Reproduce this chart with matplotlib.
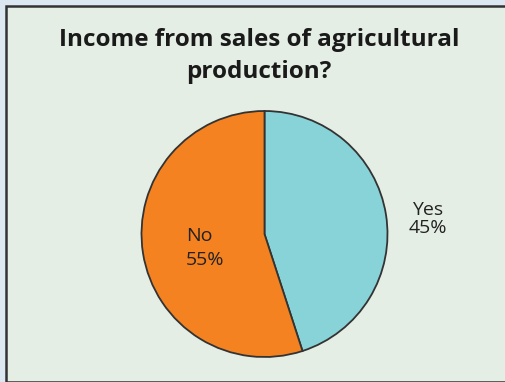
import matplotlib
matplotlib.use("Agg")
import matplotlib.pyplot as plt
from matplotlib.patches import Rectangle

categories = ["Yes", "No"]
shares = [45, 55]
colors = ["#88d3d8", "#f58220"]
title = "Income from sales of agricultural\nproduction?"

W, H = 506, 382
fig = plt.figure(figsize=(W / 100, H / 100), dpi=100)
fig.patch.set_facecolor("#dbe8f1")

# framed panel
fig.patches.append(Rectangle((6 / W, 0), 1.0, 1 - 6 / H, transform=fig.transFigure,
                             facecolor="#e5eee5", edgecolor="#333333", linewidth=1.8,
                             zorder=-1))

fig.text(259 / W, 1 - 56 / H, title, ha="center", va="center",
         fontsize=17.5, fontweight="bold", family="Open Sans", color="#1a1a1a",
         linespacing=1.5, zorder=3)

r = 123
cx, cy = 264.5, 234
ax = fig.add_axes([(cx - r) / W, 1 - (cy + r) / H, 2 * r / W, 2 * r / H])
ax.set_zorder(2)
ax.set_facecolor("none")
wedges, _ = ax.pie(shares, colors=colors, startangle=90, counterclock=False,
                   wedgeprops=dict(edgecolor="#333333", linewidth=1.3))
ax.set_xlim(-1, 1)
ax.set_ylim(-1, 1)
ax.set_aspect("equal")
ax.axis("off")

# label anchors (pixel coords): x, name line y, value line y, alignment
label_pos = {"Yes": (428, 210, 228, "center"), "No": (186, 236, 260, "left")}
for name, val in zip(categories, shares):
    x, y1, y2, ha = label_pos[name]
    for txt, y in ((name, y1), (f"{val}%", y2)):
        fig.text(x / W, 1 - y / H, txt, ha=ha, va="center",
                 fontsize=14, family="Open Sans", color="#222222", zorder=4)

fig.savefig("out.png", dpi=100, facecolor=fig.get_facecolor())
